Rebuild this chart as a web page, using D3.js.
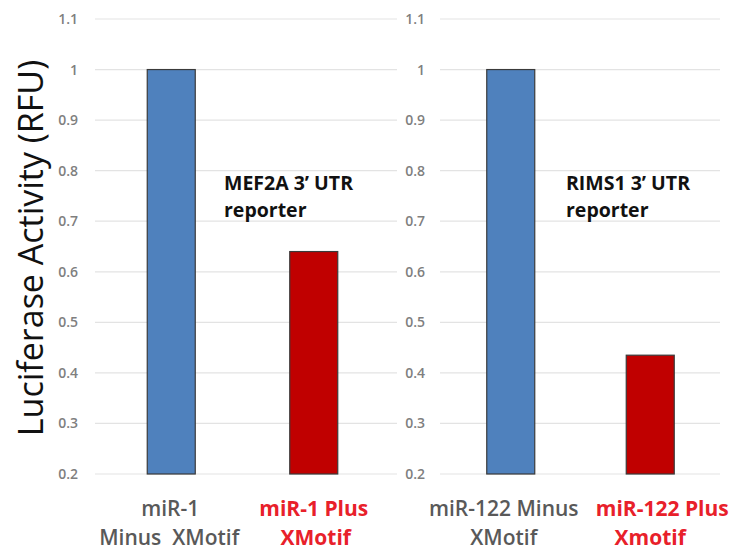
<!DOCTYPE html>
<html>
<head>
<meta charset="utf-8">
<script src="https://cdn.jsdelivr.net/npm/d3@7"></script>
<style>
  html, body { margin: 0; padding: 0; background: #fff; }
  svg { display: block; font-family: "Open Sans", sans-serif; }
</style>
</head>
<body>
<svg id="chart" width="734" height="551"></svg>
<script>
// ---- data ----
const leftCategories = ["miR-1 Minus XMotif", "miR-1 Plus XMotif"];
const leftLabels = [["miR-1", "Minus  XMotif"], ["miR-1 Plus", "XMotif"]];
const leftValues = [1.0, 0.64];
const leftTitle = ["MEF2A 3\u2019 UTR", "reporter"];

const rightCategories = ["miR-122 Minus XMotif", "miR-122 Plus Xmotif"];
const rightLabels = [["miR-122 Minus", "XMotif"], ["miR-122 Plus", "Xmotif"]];
const rightValues = [1.0, 0.435];
const rightTitle = ["RIMS1 3\u2019 UTR", "reporter"];

const yTicks = [0.2, 0.3, 0.4, 0.5, 0.6, 0.7, 0.8, 0.9, 1, 1.1];
const barColors = ["#4f81bd", "#c00000"];
const labelColors = ["#595959", "#e8202a"];
const yTitle = "Luciferase Activity (RFU)";

// ---- layout ----
const svg = d3.select("#chart");
const y = d3.scaleLinear().domain([0.2, 1.1]).range([474, 19]);
const barW = 48;

function panel(cfg) {
  const x = d3.scalePoint().domain(cfg.categories).range([cfg.x0, cfg.x1]).padding(0.5);
  const g = svg.append("g");

  // gridlines
  g.selectAll("line.grid").data(yTicks).enter().append("line")
    .attr("x1", cfg.gx0).attr("x2", cfg.gx1)
    .attr("y1", d => y(d)).attr("y2", d => y(d))
    .attr("stroke", "#e3e3e3").attr("stroke-width", 1.2);

  // y axis labels
  const axis = d3.axisLeft(y).tickValues(yTicks).tickSize(0).tickPadding(0)
    .tickFormat(d3.format("~g"));
  const ag = g.append("g").attr("transform", `translate(${cfg.axisX},0)`).call(axis);
  ag.select(".domain").remove();
  ag.selectAll("text").attr("font-family", "Open Sans, sans-serif")
    .attr("font-size", 14).attr("font-weight", 600).attr("fill", "#7f7f7f");

  // bars
  g.selectAll("rect.bar").data(cfg.values).enter().append("rect")
    .attr("x", (d, i) => x(cfg.categories[i]) - barW / 2)
    .attr("width", barW)
    .attr("y", d => y(d))
    .attr("height", d => y(0.2) - y(d))
    .attr("fill", (d, i) => barColors[i])
    .attr("stroke", "#3a3a3a").attr("stroke-width", 1.2);

  // category labels
  cfg.labels.forEach((lines, i) => {
    const t = g.append("text")
      .attr("text-anchor", "middle")
      .attr("font-size", 21).attr("font-weight", i === 0 ? 600 : 700)
      .attr("fill", labelColors[i]);
    lines.forEach((ln, j) => {
      t.append("tspan").attr("x", x(cfg.categories[i]) + cfg.labelShift[i][j])
        .attr("y", j === 0 ? 516 : 545).attr("xml:space", "preserve").text(ln);
    });
  });

  // annotation
  cfg.title.forEach((ln, j) => {
    g.append("text").attr("font-size", 19.5).attr("font-weight", 700).attr("fill", "#111")
      .attr("x", cfg.titleX).attr("y", j === 0 ? 190 : 217).text(ln);
  });
}

panel({
  categories: leftCategories, labels: leftLabels, values: leftValues, title: leftTitle,
  x0: 100, x1: 385, gx0: 95, gx1: 397, axisX: 78, titleX: 224,
  labelShift: [[-1, -2], [0, 2]]
});
panel({
  categories: rightCategories, labels: rightLabels, values: rightValues, title: rightTitle,
  x0: 441, x1: 720, gx0: 440, gx1: 720, axisX: 425, titleX: 566,
  labelShift: [[-7, -7], [12, 0]]
});

// y axis title
svg.append("text")
  .attr("transform", "translate(43,248) rotate(-90)")
  .attr("text-anchor", "middle")
  .attr("font-size", 34).attr("font-weight", 500).attr("fill", "#111")
  .text(yTitle);
</script>
</body>
</html>
